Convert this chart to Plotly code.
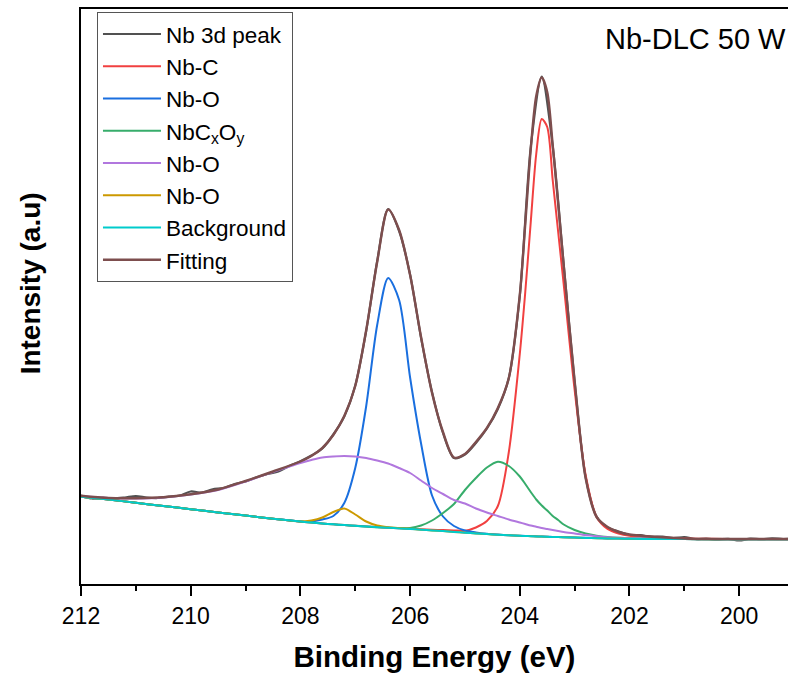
import plotly.graph_objects as go

# Binding-energy grid shared by the fitted curves (eV)
energy = [212.0, 211.5, 211.0, 210.5, 210.0, 209.5, 209.0, 208.5, 208.0,
          207.8, 207.6, 207.4, 207.2, 207.0, 206.8, 206.6, 206.4, 206.2, 206.0,
          205.8, 205.6, 205.4, 205.2, 205.0, 204.8, 204.6, 204.4, 204.2, 204.0,
          203.9, 203.8, 203.7, 203.6, 203.5, 203.4, 203.3,
          203.2, 203.0, 202.8, 202.6, 202.4, 202.2, 202.0,
          201.5, 201.0, 200.5, 200.0, 199.5, 199.0]

# Shirley-type background
background = [87.3, 84.5, 81.2, 78.0, 74.8, 71.6, 68.4, 65.3, 62.4,
              61.4, 60.5, 59.7, 59.0, 58.2, 57.5, 56.8, 56.2, 55.6, 55.0,
              54.3, 53.6, 52.9, 52.1, 51.3, 50.6, 49.9, 49.3, 48.7, 48.2,
              48.0, 47.8, 47.6, 47.4, 47.2, 47.0, 46.9,
              46.7, 46.4, 46.1, 45.8, 45.6, 45.4, 45.2,
              45.0, 44.9, 44.8, 44.8, 44.7, 44.7]

# Nb-C component
nb_c = [87.3, 84.5, 81.2, 78.0, 74.8, 71.6, 68.4, 65.3, 62.4,
        61.4, 60.5, 59.7, 59.0, 58.2, 57.6, 56.9, 56.3, 55.8, 55.3,
        54.8, 54.3, 53.9, 53.6, 53.2, 56.5, 63.0, 78.0, 132.0, 230.0,
        292.0, 362.0, 430.0, 465.0, 457.0, 404.0, 352.0,
        300.0, 194.0, 109.0, 67.0, 55.0, 50.5, 48.3,
        46.5, 45.6, 45.2, 45.0, 44.9, 44.8]

# Nb-O component (main oxide peak)
nb_o_main = [87.3, 84.5, 81.2, 78.0, 74.8, 71.6, 68.4, 65.3, 62.6,
             62.5, 64.5, 68.0, 81.0, 116.0, 178.0, 259.0, 306.0, 284.0, 206.5,
             140.5, 88.5, 67.5, 58.0, 53.5, 51.5, 50.2, 49.4, 48.8, 48.3,
             48.1, 47.9, 47.7, 47.5, 47.3, 47.1, 47.0,
             46.8, 46.5, 46.2, 45.9, 45.6, 45.4, 45.2,
             45.0, 44.9, 44.8, 44.8, 44.7, 44.7]

# NbCxOy component
nb_cxoy = [87.3, 84.5, 81.2, 78.0, 74.8, 71.6, 68.4, 65.3, 62.4,
           61.4, 60.5, 59.7, 59.0, 58.2, 57.5, 56.8, 56.4, 56.0, 56.0,
           58.5, 63.5, 71.0, 80.0, 94.0, 106.0, 116.5, 122.3, 118.0, 107.5,
           100.0, 92.0, 84.5, 78.5, 73.5, 68.0, 64.0,
           59.5, 54.0, 50.5, 48.3, 47.0, 46.2, 45.7,
           45.2, 45.0, 44.8, 44.8, 44.7, 44.7]

# Broad Nb-O component
nb_o_broad = [88.0, 86.0, 85.5, 86.5, 89.5, 94.0, 102.5, 112.0, 121.0,
              124.0, 126.5, 127.5, 128.0, 127.5, 126.0, 123.5, 120.5, 116.0, 111.0,
              103.5, 96.0, 90.0, 84.0, 80.5, 75.5, 71.5, 68.0, 64.5, 61.5,
              60.0, 58.5, 57.3, 56.0, 55.0, 54.0, 53.0,
              52.0, 50.5, 49.0, 47.8, 46.8, 46.2, 45.7,
              45.2, 45.0, 44.9, 44.8, 44.7, 44.7]

# Small Nb-O component
nb_o_small = [87.3, 84.5, 81.2, 78.0, 74.8, 71.6, 68.4, 65.3, 62.4,
              63.5, 66.5, 72.0, 75.5, 69.5, 62.5, 58.5, 56.8, 55.9, 55.2,
              54.3, 53.6, 52.9, 52.1, 51.3, 50.6, 49.9, 49.3, 48.7, 48.2,
              48.0, 47.8, 47.6, 47.4, 47.2, 47.0, 46.9,
              46.7, 46.4, 46.1, 45.8, 45.6, 45.4, 45.2,
              45.0, 44.9, 44.8, 44.8, 44.7, 44.7]

# Cumulative fit envelope
fitting = [88.3, 86.0, 85.8, 86.8, 89.8, 94.5, 103.0, 112.5, 122.5,
           128.0, 136.0, 149.0, 168.0, 198.0, 254.0, 322.0, 374.5, 354.0, 309.0,
           247.0, 191.0, 152.0, 126.5, 130.0, 142.0, 156.0, 176.0, 206.0, 289.0,
           360.0, 435.0, 488.0, 506.5, 492.0, 439.0, 380.0,
           319.0, 203.0, 106.0, 67.0, 57.0, 52.0, 49.5,
           47.0, 45.5, 45.0, 45.0, 45.0, 45.0]

# Measured Nb 3d spectrum (0.2 eV steps)
energy_meas = [212.0, 211.8, 211.6, 211.4, 211.2, 211.0, 210.8, 210.6, 210.4, 210.2,
               210.0, 209.8, 209.6, 209.4, 209.2, 209.0, 208.8, 208.6, 208.4, 208.2,
               208.0, 207.8, 207.6, 207.4, 207.2, 207.0, 206.8, 206.6, 206.4, 206.2,
               206.0, 205.8, 205.6, 205.4, 205.2, 205.0, 204.8, 204.6, 204.4, 204.2,
               204.0, 203.8, 203.6, 203.4, 203.2, 203.0, 202.8, 202.6, 202.4, 202.2,
               202.0, 201.8, 201.6, 201.4, 201.2, 201.0, 200.8, 200.6, 200.4, 200.2,
               200.0, 199.8, 199.6, 199.4, 199.2, 199.0]
nb3d_meas = [88.5, 85.5, 86.5, 85.5, 86.5, 88.0, 86.5, 86.0, 87.3, 88.5,
             92.5, 91.5, 94.7, 96.0, 100.0, 102.5, 106.8, 110.0, 112.5, 118.0,
             122.8, 128.5, 135.5, 149.5, 167.5, 198.5, 253.0, 323.0, 375.0, 353.0,
             309.5, 246.0, 192.0, 151.0, 126.0, 129.5, 141.0, 155.5, 175.0, 206.0,
             288.0, 437.0, 507.5, 438.0, 320.0, 202.0, 107.0, 67.5, 56.5, 52.5,
             49.0, 48.8, 47.2, 47.5, 46.0, 47.0, 45.0, 45.3, 44.6, 45.2,
             43.5, 45.3, 44.8, 45.6, 45.0, 45.3]

series = [
    ("Nb 3d peak", energy_meas, nb3d_meas, "#515151", 2.2),
    ("Nb-C", energy, nb_c, "#F14040", 2.0),
    ("Nb-O", energy, nb_o_main, "#1A6FDF", 2.0),
    ("NbC<sub>x</sub>O<sub>y</sub>", energy, nb_cxoy, "#37AD6B", 2.0),
    ("Nb-O", energy, nb_o_broad, "#B177DE", 2.0),
    ("Nb-O", energy, nb_o_small, "#CC9900", 2.0),
    ("Background", energy, background, "#00CBCC", 2.0),
    ("Fitting", energy, fitting, "#7D4E4E", 2.4),
]

font_family = "Arial, Liberation Sans, sans-serif"

fig = go.Figure()
for name, xs, ys, color, width in series:
    fig.add_trace(go.Scatter(
        x=xs, y=ys, name=name, mode="lines",
        line=dict(color=color, width=width, shape="spline", smoothing=0.8),
    ))

fig.update_layout(
    width=788, height=678,
    margin=dict(l=81, r=0, t=9, b=94),
    paper_bgcolor="white", plot_bgcolor="white",
    font=dict(family=font_family, color="black"),
    showlegend=True,
    legend=dict(
        x=0.0226, y=0.995, xanchor="left", yanchor="top",
        bgcolor="rgba(255,255,255,0)", bordercolor="#555555", borderwidth=1,
        font=dict(size=22.5, family=font_family, color="black"),
        itemwidth=58, tracegroupgap=0,
    ),
    xaxis=dict(
        range=[212, 199.11], autorange=False,
        tick0=200, dtick=2,
        showline=True, linecolor="black", linewidth=2, mirror=True,
        ticks="outside", ticklen=10, tickwidth=2, tickcolor="black",
        minor=dict(dtick=1, ticks="outside", ticklen=5, tickwidth=2, tickcolor="black"),
        showgrid=False, zeroline=False,
        tickfont=dict(size=23, family=font_family, color="black"),
        title=dict(text="<b>Binding Energy (eV)</b>",
                   font=dict(size=29.5, family=font_family, color="black"),
                   standoff=19),
    ),
    yaxis=dict(
        range=[0, 575], autorange=False,
        showline=True, linecolor="black", linewidth=2, mirror=False,
        ticks="", showticklabels=False,
        showgrid=False, zeroline=False,
    ),
    annotations=[
        dict(
            text="Nb-DLC 50 W", xref="paper", yref="paper",
            x=1.0, y=0.980, xanchor="right", yanchor="top", showarrow=False,
            font=dict(size=29, family=font_family, color="black"),
        ),
        dict(
            text="<b>Intensity (a.u)</b>", xref="paper", yref="paper",
            x=-0.072, y=0.523, xanchor="center", yanchor="middle",
            textangle=-90, showarrow=False,
            font=dict(size=28, family=font_family, color="black"),
        ),
    ],
)

fig.write_html("out.html")
